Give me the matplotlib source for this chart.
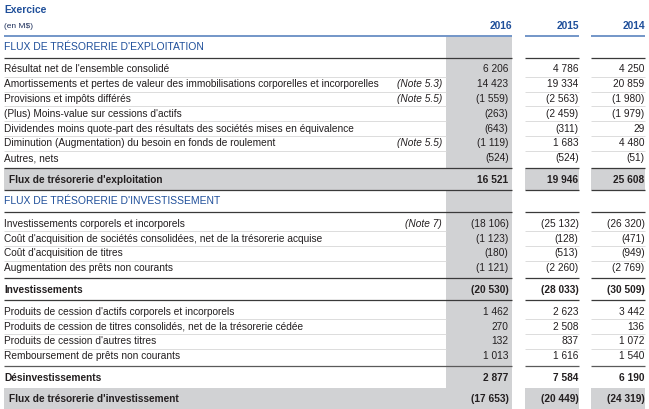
import matplotlib.pyplot as plt
from matplotlib.patches import Rectangle

plt.rcParams['font.family'] = ['Liberation Sans', 'DejaVu Sans']

years = ["2016", "2015", "2014"]

op_labels = [
    "Résultat net de l'ensemble consolidé",
    "Amortissements et pertes de valeur des immobilisations corporelles et incorporelles",
    "Provisions et impôts différés",
    "(Plus) Moins-value sur cessions d'actifs",
    "Dividendes moins quote-part des résultats des sociétés mises en équivalence",
    "Diminution (Augmentation) du besoin en fonds de roulement",
    "Autres, nets",
]
op_notes = ["", "(Note 5.3)", "(Note 5.5)", "", "", "(Note 5.5)", ""]
op_2016 = [6206, 14423, -1559, -263, -643, -1119, -524]
op_2015 = [4786, 19334, -2563, -2459, -311, 1683, -524]
op_2014 = [4250, 20859, -1980, -1979, 29, 4480, -51]
op_total = [16521, 19946, 25608]

inv_labels = [
    "Investissements corporels et incorporels",
    "Coût d'acquisition de sociétés consolidées, net de la trésorerie acquise",
    "Coût d'acquisition de titres",
    "Augmentation des prêts non courants",
]
inv_notes = ["(Note 7)", "", "", ""]
inv_2016 = [-18106, -1123, -180, -1121]
inv_2015 = [-25132, -128, -513, -2260]
inv_2014 = [-26320, -471, -949, -2769]
inv_subtotal = [-20530, -28033, -30509]

div_labels = [
    "Produits de cession d'actifs corporels et incorporels",
    "Produits de cession de titres consolidés, net de la trésorerie cédée",
    "Produits de cession d'autres titres",
    "Remboursement de prêts non courants",
]
div_notes = ["", "", "", ""]
div_2016 = [1462, 270, 132, 1013]
div_2015 = [2623, 2508, 837, 1616]
div_2014 = [3442, 136, 1072, 1540]
div_subtotal = [2877, 7584, 6190]

inv_total = [-17653, -20449, -24319]

BLUE = "#1f4f9a"
BLUE_LINE = "#7396c8"
GRAY = "#d1d2d4"
SEP = "#dcdcdc"
DARK = "#3a3a3a"
TEXT = "#231f20"
FS = 7.3

W, H = 649, 409
LEFT = 4
COLS = [(446, 512), (525, 579), (591, 645)]
NUM_X = [508.5, 578.5, 644.5]
NOTE_X = 442
ROW_H = 14.8
BAND_H = 21.5
SPANS = [(LEFT, COLS[0][1]), COLS[1], COLS[2]]

fig = plt.figure(figsize=(W / 100, H / 100), dpi=100)
ax = fig.add_axes([0, 0, 1, 1])
ax.set_xlim(0, W)
ax.set_ylim(H, 0)
ax.axis("off")


def fmt(v):
    s = f"{abs(v):,}".replace(",", " ")
    return f"({s})" if v < 0 else s


def hline(y, color, lw=0.9, spans=SPANS):
    for x0, x1 in spans:
        ax.plot([x0, x1], [y, y], color=color, lw=lw, solid_capstyle="butt", zorder=3)


def header(y, text):
    ax.text(LEFT, y + BAND_H / 2 + 0.5, text, color=BLUE, fontsize=7.5,
            va="center", ha="left")
    return y + BAND_H + 0.5


def details(y, labels, notes, cols):
    top = y + 4.5
    n = len(labels)
    for i in range(n):
        yc = top + ROW_H * (i + 0.5)
        ax.text(LEFT, yc, labels[i], color=TEXT, fontsize=FS, va="center")
        if notes[i]:
            ax.text(NOTE_X, yc, notes[i], color=TEXT, fontsize=FS, va="center",
                    ha="right", style="italic")
        for x, vals in zip(NUM_X, cols):
            ax.text(x, yc, fmt(vals[i]), color=TEXT, fontsize=FS, va="center", ha="right")
        if i < n - 1:
            ys = top + ROW_H * (i + 1)
            hline(ys, SEP, 0.7, [(LEFT, COLS[0][0]), COLS[1], COLS[2]])
    return top + ROW_H * n + 2.8


def subtotal(y, label, vals, shaded=False):
    if shaded:
        for x0, x1 in SPANS:
            ax.add_patch(Rectangle((x0, y), x1 - x0, BAND_H, color=GRAY, lw=0, zorder=1))
    yc = y + BAND_H / 2 + 0.5
    ax.text(LEFT + (5 if shaded else 0), yc, label, color=TEXT, fontsize=FS,
            va="center", weight="bold")
    for x, v in zip(NUM_X, vals):
        ax.text(x, yc, fmt(v), color=TEXT, fontsize=FS, va="center", ha="right",
                weight="bold")
    return y + BAND_H


# top headings
ax.text(LEFT, 10, "Exercice", color=BLUE, fontsize=7.4, weight="bold", va="center")
ax.text(LEFT, 26, "(en M$)", color="#1c2e5a", fontsize=6.0, va="center")
for (x0, x1), yr in zip(COLS, years):
    ax.text(x1, 26, yr, color=BLUE, fontsize=7.4, weight="bold", va="center", ha="right")

y = 35.5
ax.add_patch(Rectangle((COLS[0][0], y), COLS[0][1] - COLS[0][0], H - y,
                       color=GRAY, lw=0, zorder=0))
hline(y, BLUE_LINE, 1.4)

y = header(y, "FLUX DE TRÉSORERIE D'EXPLOITATION")
hline(y, DARK)
y = details(y, op_labels, op_notes, [op_2016, op_2015, op_2014])
hline(y, DARK)
y = subtotal(y, "Flux de trésorerie d'exploitation", op_total, shaded=True)
hline(y, DARK)
y = header(y, "FLUX DE TRÉSORERIE D'INVESTISSEMENT")
hline(y, DARK)
y = details(y, inv_labels, inv_notes, [inv_2016, inv_2015, inv_2014])
hline(y, DARK)
y = subtotal(y, "Investissements", inv_subtotal)
hline(y, DARK)
y = details(y, div_labels, div_notes, [div_2016, div_2015, div_2014])
hline(y, "#5a5a5a")
y = subtotal(y, "Désinvestissements", div_subtotal)
y = subtotal(y, "Flux de trésorerie d'investissement", inv_total, shaded=True)

fig.savefig("out.png", dpi=100)
